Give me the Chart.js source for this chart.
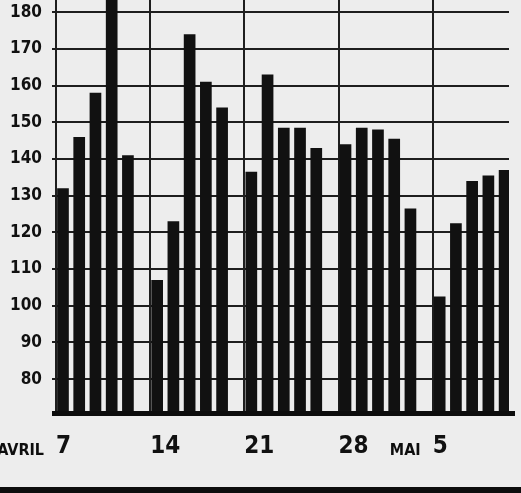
<!DOCTYPE html>
<html>
<head>
<meta charset="utf-8">
<script src="https://cdn.jsdelivr.net/npm/chart.js@4/dist/chart.umd.min.js"></script>
<style>
  html, body { margin: 0; padding: 0; background: #ededed; }
  #wrap { width: 521px; height: 493px; }
</style>
</head>
<body>
<div id="wrap"><canvas id="myChart" width="521" height="493"></canvas></div>
<script>
// one bar per trading day, Monday to Friday
var weekLabels = ["7", "14", "21", "28", "5"];
var monthLabels = ["AVRIL", "", "", "", "MAI"];
var week1 = [132, 146, 158, 190, 141];
var week2 = [107, 123, 174, 161, 154];
var week3 = [136.5, 163, 148.5, 148.5, 143];
var week4 = [144, 148.5, 148, 145.5, 126.5];
var week5 = [102.5, 122.5, 134, 135.5, 137];
var yTicks = [80, 90, 100, 110, 120, 130, 140, 150, 160, 170, 180];

var weeks = [week1, week2, week3, week4, week5];
var WEEK_SPAN = 5.8;   // 5 days + small weekend gap, in x units
var DAY_OFFSET = 0.43;
var FONT = "'DejaVu Sans Condensed', 'Liberation Sans Narrow', 'DejaVu Sans', sans-serif";

var points = [];
weeks.forEach((week, w) => {
  week.forEach((value, d) => {
    points.push({ x: w * WEEK_SPAN + d + DAY_OFFSET, y: value });
  });
});

var extras = {
  id: "extras",
  afterDraw(chart) {
    var ctx = chart.ctx;
    var area = chart.chartArea;
    var xs = chart.scales.x;
    ctx.save();
    // heavy base line
    ctx.fillStyle = "#0d0d0d";
    ctx.fillRect(area.left - 4, area.bottom - 3, area.right - area.left + 10, 5);
    // month names before the week numbers
    ctx.font = "bold 16px " + FONT;
    ctx.textAlign = "right";
    ctx.textBaseline = "alphabetic";
    monthLabels.forEach((m, i) => {
      if (m) {
        ctx.fillText(m, xs.getPixelForValue(i * WEEK_SPAN) - 12, area.bottom + 41);
      }
    });
    // page rule at the bottom
    ctx.fillRect(0, 487, chart.width, 6);
    ctx.restore();
  }
};

var ctx = document.getElementById("myChart").getContext("2d");
var myChart = new Chart(ctx, {
  type: "bar",
  data: {
    datasets: [
      {
        data: points,
        backgroundColor: "#111111",
        borderWidth: 0,
        categoryPercentage: 1,
        barPercentage: 0.72,
      },
    ],
  },
  options: {
    responsive: false,
    animation: false,
    layout: { padding: { top: 0, right: 12, left: 0, bottom: 0 } },
    plugins: { legend: { display: false }, tooltip: { enabled: false } },
    scales: {
      x: {
        type: "linear",
        min: 0,
        max: 27.9,
        offset: false,
        afterBuildTicks: (scale) => {
          scale.ticks = weekLabels.map((_, i) => ({ value: i * WEEK_SPAN }));
        },
        afterFit: (scale) => {
          scale.height = 79;
          scale.paddingLeft = 0;
          scale.paddingRight = 0;
        },
        grid: { color: "#1e1e1e", lineWidth: 2, drawTicks: false, offset: false },
        border: { display: false },
        ticks: {
          autoSkip: false,
          maxRotation: 0,
          align: "start",
          padding: 18,
          color: "#111111",
          font: { family: FONT, size: 24, weight: "bold" },
          callback: (value, index) => weekLabels[index],
        },
      },
      y: {
        min: 70.5,
        max: 183.3,
        afterBuildTicks: (scale) => {
          scale.ticks = yTicks.map((v) => ({ value: v }));
        },
        afterFit: (scale) => {
          scale.width = 56;
          scale.paddingTop = 0;
          scale.paddingBottom = 0;
        },
        grid: { color: "#1e1e1e", lineWidth: 2, tickLength: 4 },
        border: { display: true, color: "#1e1e1e", width: 2 },
        ticks: {
          padding: 10,
          color: "#111111",
          font: { family: FONT, size: 17, weight: "bold" },
        },
      },
    },
  },
  plugins: [extras],
});
</script>
</body>
</html>
